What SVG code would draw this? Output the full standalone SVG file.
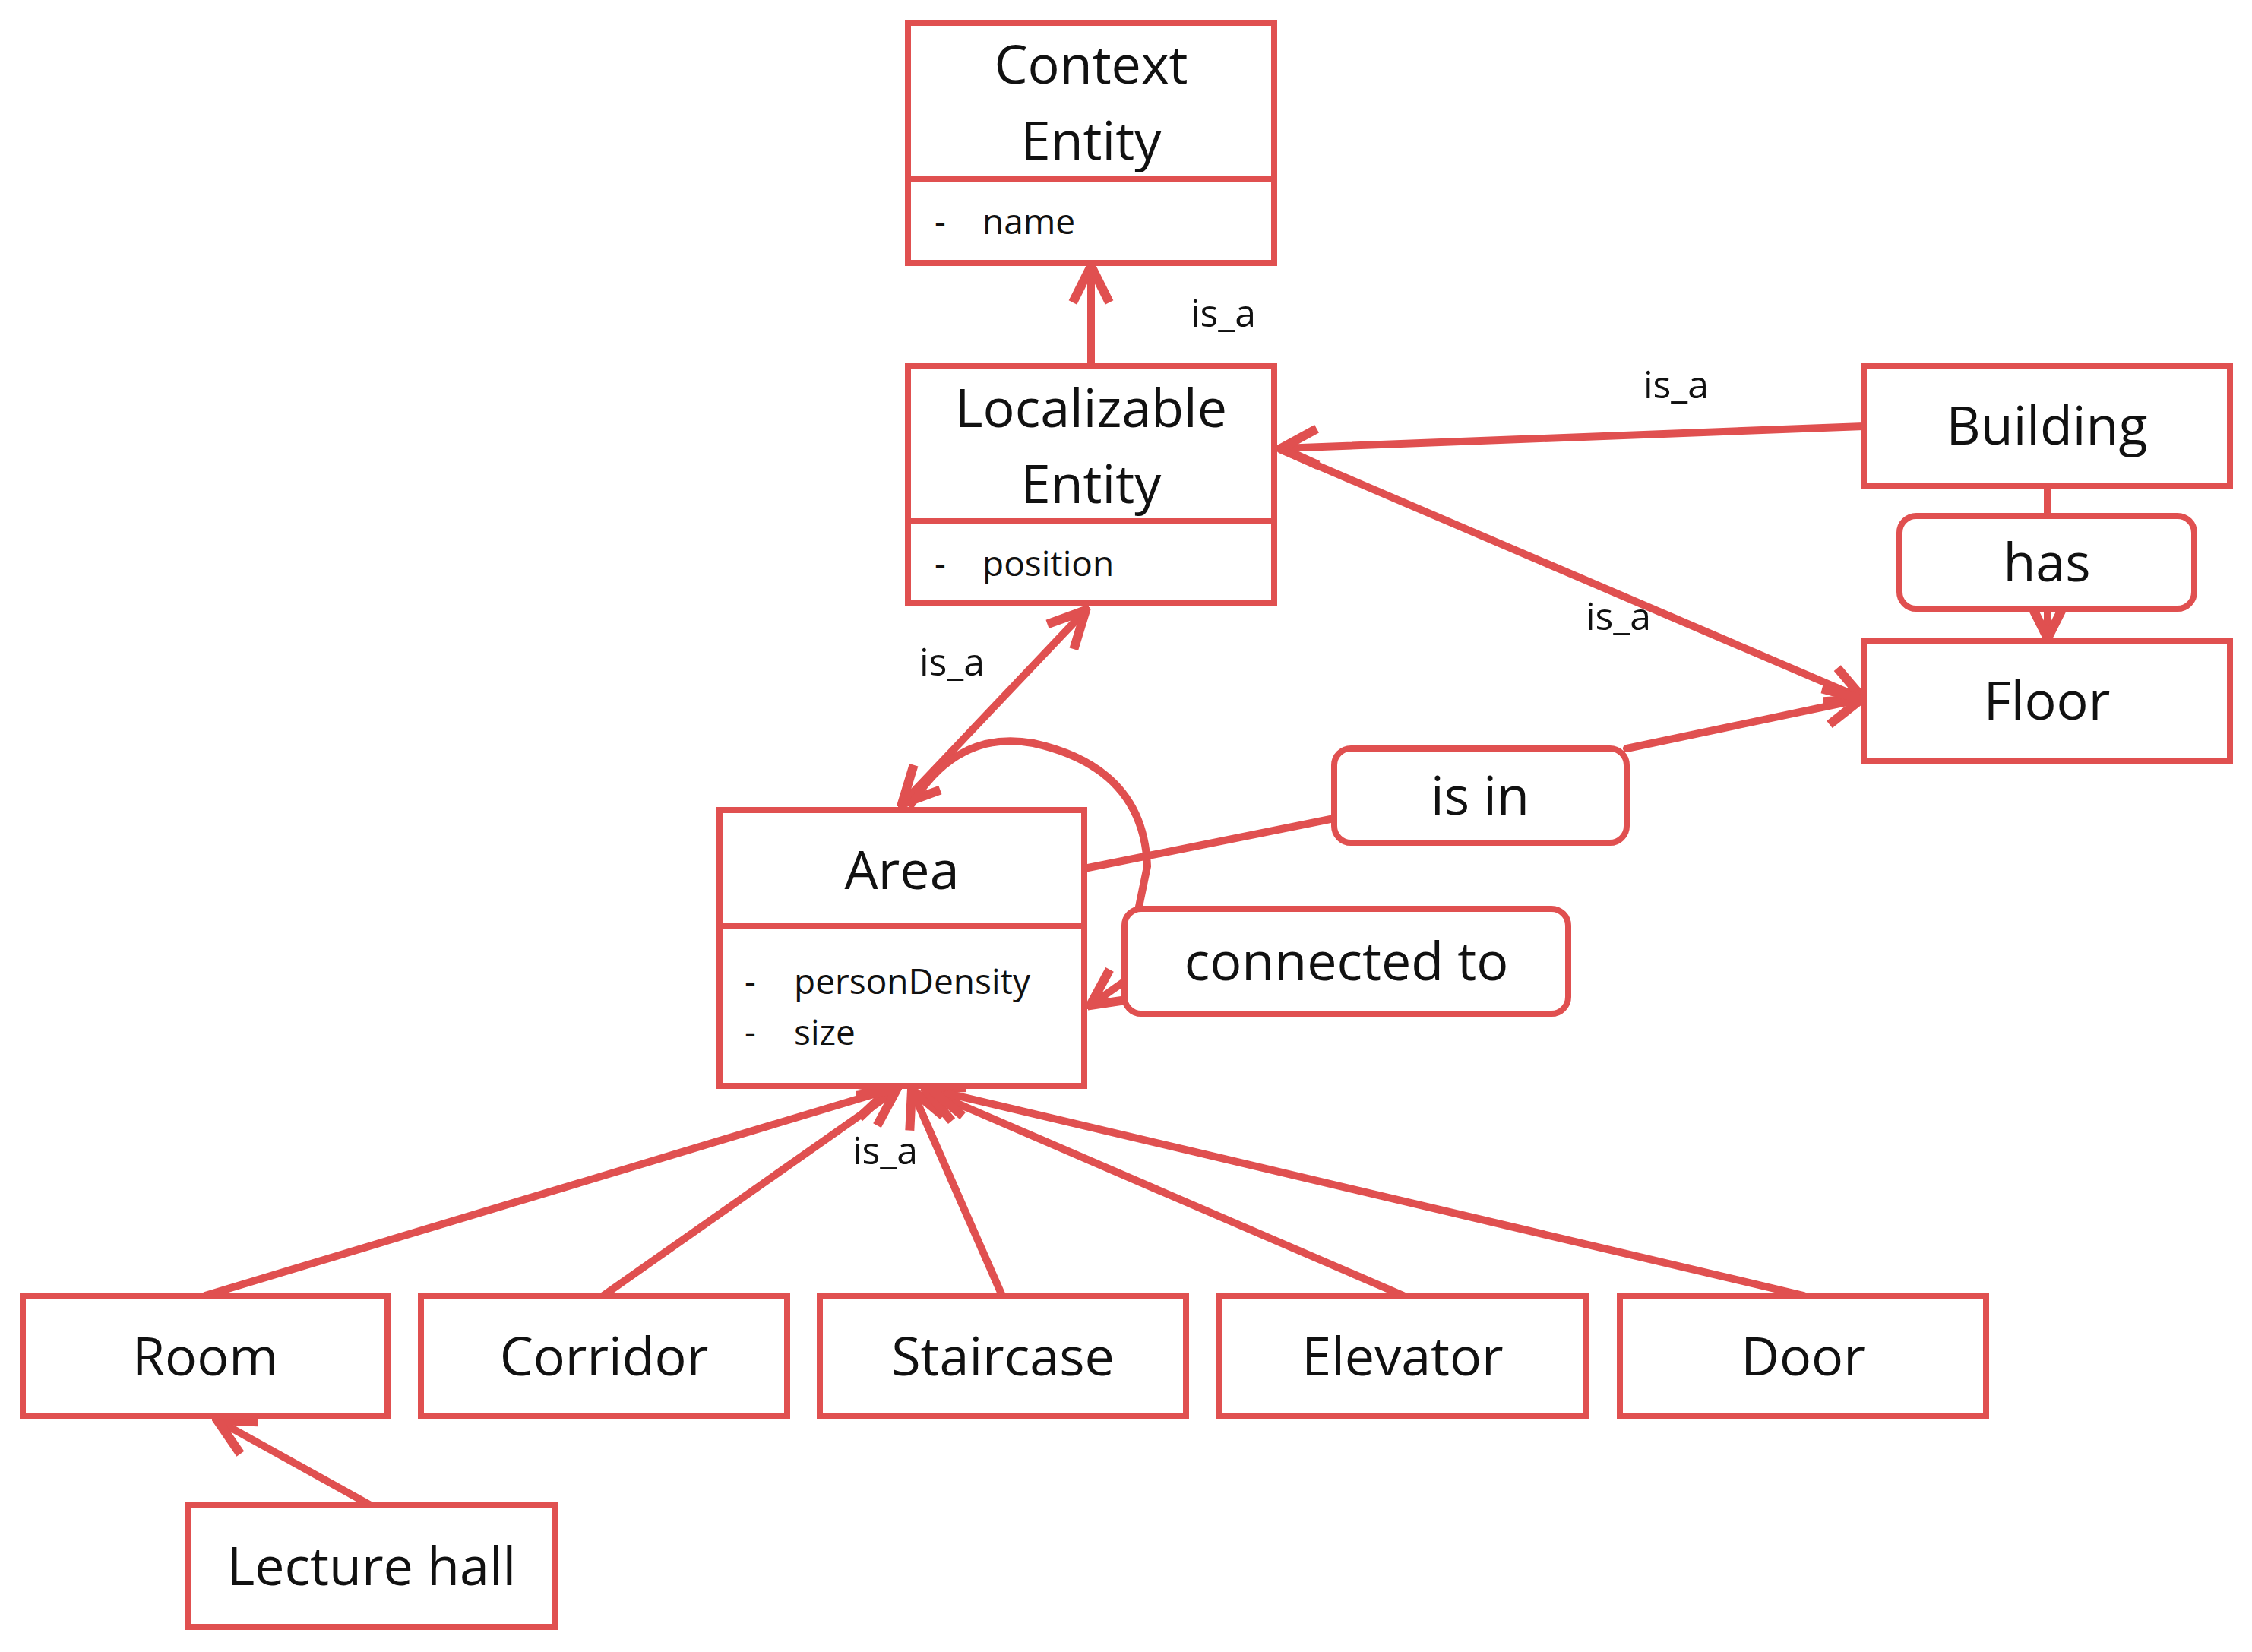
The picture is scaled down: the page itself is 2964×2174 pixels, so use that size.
<svg xmlns="http://www.w3.org/2000/svg" width="2964" height="2174" viewBox="0 0 2964 2174">
<style>
.b{fill:#fff;stroke:#e05050;stroke-width:8}
.c{fill:none;stroke:#e05050;stroke-width:10;stroke-linecap:round}
.t{font-family:"Open Sans","Noto Sans",sans-serif;font-size:70px;fill:#111;text-anchor:middle}
.a{font-family:"Open Sans","Noto Sans",sans-serif;font-size:46px;fill:#111}
.l{font-family:"Open Sans","Noto Sans",sans-serif;font-size:50px;fill:#111;text-anchor:middle}
</style>
<defs>
<marker id="ar" markerUnits="userSpaceOnUse" markerWidth="60" markerHeight="60" refX="36" refY="20" orient="auto-start-reverse" viewBox="0 0 40 40">
<path d="M4,4 L36,20 L4,36" fill="none" stroke="#e05050" stroke-width="8" stroke-linejoin="miter"/>
</marker>
</defs>
<rect width="2964" height="2174" fill="#fff"/>
<g id="connectors">
<line class="c" x1="1436" y1="482" x2="1436" y2="350" marker-end="url(#ar)"/>
<line class="c" x1="2453" y1="561" x2="1686" y2="590" marker-end="url(#ar)"/>
<line class="c" x1="2453" y1="920" x2="1686" y2="592" marker-start="url(#ar)"/>
<line class="c" x1="2695" y1="639" x2="2695" y2="679"/>
<line class="c" x1="2695" y1="801" x2="2695" y2="840" marker-end="url(#ar)"/>
<line class="c" x1="1427" y1="1143" x2="1756" y2="1077"/>
<line class="c" x1="2141" y1="985" x2="2450" y2="920" marker-end="url(#ar)"/>
<line class="c" x1="1187" y1="1058" x2="1429" y2="803" marker-start="url(#ar)" marker-end="url(#ar)"/>
<path class="c" d="M1200,1058 Q1260,960 1360,978 Q1505,1010 1510,1140 L1498,1198"/>
<line class="c" x1="1482" y1="1290" x2="1435" y2="1323" marker-end="url(#ar)"/>
<line class="c" x1="270" y1="1705" x2="1170" y2="1434" marker-end="url(#ar)"/>
<line class="c" x1="794" y1="1705" x2="1180" y2="1434" marker-end="url(#ar)"/>
<line class="c" x1="1319" y1="1705" x2="1200" y2="1434" marker-end="url(#ar)"/>
<line class="c" x1="1847" y1="1705" x2="1218" y2="1434" marker-end="url(#ar)"/>
<line class="c" x1="2374" y1="1705" x2="1226" y2="1434" marker-end="url(#ar)"/>
<line class="c" x1="488" y1="1981" x2="286" y2="1869" marker-end="url(#ar)"/>
<text class="l" x="1610" y="430">is_a</text>
<text class="l" x="2206" y="524">is_a</text>
<text class="l" x="2130" y="829">is_a</text>
<text class="l" x="1253" y="889">is_a</text>
<text class="l" x="1165" y="1532">is_a</text>
</g>
<g id="context-entity">
<rect class="b" x="1195" y="30" width="482" height="316"/>
<line class="b" x1="1195" y1="236" x2="1677" y2="236"/>
<text class="t" x="1436" y="110">Context</text>
<text class="t" x="1436" y="210">Entity</text>
<text class="a" x="1230" y="308">-</text><text class="a" x="1293" y="308">name</text>
</g>
<g id="localizable-entity">
<rect class="b" x="1195" y="482" width="482" height="312"/>
<line class="b" x1="1195" y1="686" x2="1677" y2="686"/>
<text class="t" x="1436" y="562">Localizable</text>
<text class="t" x="1436" y="662">Entity</text>
<text class="a" x="1230" y="758">-</text><text class="a" x="1293" y="758">position</text>
</g>
<g id="building"><rect class="b" x="2453" y="482" width="482" height="157"/><text class="t" x="2694" y="585">Building</text></g>
<g id="has"><rect class="b" x="2500" y="679" width="388" height="122" rx="22"/><text class="t" x="2694" y="765">has</text></g>
<g id="floor"><rect class="b" x="2453" y="843" width="482" height="159"/><text class="t" x="2694" y="947">Floor</text></g>
<g id="is-in"><rect class="b" x="1756" y="985" width="385" height="124" rx="22"/><text class="t" x="1948" y="1072">is in</text></g>
<g id="area">
<rect class="b" x="947" y="1066" width="480" height="363"/>
<line class="b" x1="947" y1="1219" x2="1427" y2="1219"/>
<text class="t" x="1187" y="1170">Area</text>
<text class="a" x="980" y="1308">-</text><text class="a" x="1045" y="1308">personDensity</text>
<text class="a" x="980" y="1375">-</text><text class="a" x="1045" y="1375">size</text>
</g>
<g id="connected-to"><rect class="b" x="1480" y="1196" width="584" height="138" rx="22"/><text class="t" x="1772" y="1290">connected to</text></g>
<g id="room"><rect class="b" x="30" y="1705" width="480" height="159"/><text class="t" x="270" y="1810">Room</text></g>
<g id="corridor"><rect class="b" x="554" y="1705" width="482" height="159"/><text class="t" x="795" y="1810">Corridor</text></g>
<g id="staircase"><rect class="b" x="1079" y="1705" width="482" height="159"/><text class="t" x="1320" y="1810">Staircase</text></g>
<g id="elevator"><rect class="b" x="1605" y="1705" width="482" height="159"/><text class="t" x="1846" y="1810">Elevator</text></g>
<g id="door"><rect class="b" x="2132" y="1705" width="482" height="159"/><text class="t" x="2373" y="1810">Door</text></g>
<g id="lecture-hall"><rect class="b" x="248" y="1981" width="482" height="160"/><text class="t" x="489" y="2086">Lecture hall</text></g>
</svg>
